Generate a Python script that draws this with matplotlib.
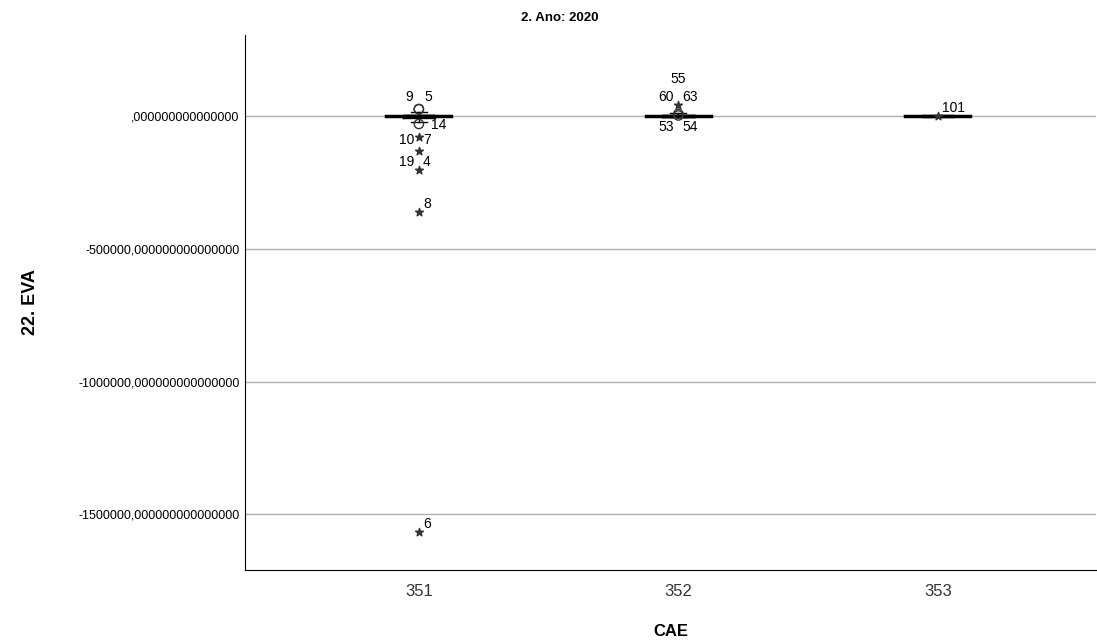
import matplotlib.pyplot as plt
import numpy as np

categorias = ['351', '352', '353']

# caixa: (mediana, q1, q3, bigode inferior, bigode superior)
medianas = [0, 0, 0]
q1 = [-8000, -3000, 0]
q3 = [4000, 5000, 0]
bigode_inf = [-23000, -5000, 0]
bigode_sup = [15000, 12000, 0]

# outliers (circulo): categoria, valor, rotulo esquerda, rotulo direita
outl_cat = [0, 0, 0, 1, 1]
outl_val = [26000, 26000, -30000, 8000, 2000]
outl_esq = ['9', '', '', '', '53']
outl_dir = ['5', '', '14', '', '54']

# extremos (estrela)
ext_cat = [0, 0, 0, 0, 0, 1, 1, 2]
ext_val = [-79000, -132000, -203000, -362000, -1567000, 41000, 139000, 0]
ext_esq = ['10', '', '19', '', '', '60', '55', '']
ext_dir = ['7', '', '4', '8', '6', '63', '', '101']
ext_mostra = [True, True, True, True, True, True, False, True]

plt.rcParams['font.family'] = ['Liberation Sans', 'DejaVu Sans']

fig = plt.figure(figsize=(10.97, 6.43), dpi=100)
ax = fig.add_axes([0.2233, 0.1135, 0.776, 0.832])

stats = []
for i in range(len(categorias)):
    stats.append({'med': medianas[i], 'q1': q1[i], 'q3': q3[i],
                  'whislo': bigode_inf[i], 'whishi': bigode_sup[i], 'fliers': []})
pos = np.arange(len(categorias))
ax.bxp(stats, positions=pos, widths=0.125, showfliers=False, patch_artist=False,
       boxprops=dict(color='black', linewidth=1),
       whiskerprops=dict(color='black', linewidth=1),
       capprops=dict(color='black', linewidth=1),
       medianprops=dict(color='black', linewidth=2.5), zorder=3)
# linha da mediana mais larga como no SPSS
for i in range(len(categorias)):
    ax.plot([pos[i] - 0.125, pos[i] + 0.125], [medianas[i]] * 2, color='black', lw=2.5, zorder=4)

ax.scatter(outl_cat, outl_val, marker='o', s=45, facecolors='none', edgecolors='#333333',
           linewidths=1, zorder=5)
fs = 10
for c, v, e, d in zip(outl_cat, outl_val, outl_esq, outl_dir):
    baixo = d in ('14', '54')
    if e:
        ax.annotate(e, (c, v), xytext=(-3, -3) if e == '53' else (-4, 4),
                    textcoords='offset points', ha='right',
                    va='top' if e == '53' else 'bottom', fontsize=fs)
    if d:
        if d == '14':
            ax.annotate(d, (c, v), xytext=(9, -1), textcoords='offset points', ha='left',
                        va='center', fontsize=fs)
        else:
            ax.annotate(d, (c, v), xytext=(3, -3) if baixo else (4, 4),
                        textcoords='offset points', ha='left',
                        va='top' if baixo else 'bottom', fontsize=fs)

for c, v, e, d, m in zip(ext_cat, ext_val, ext_esq, ext_dir, ext_mostra):
    if m:
        ax.scatter([c], [v], marker='*', s=35, color='#333333', zorder=5)
    lado = 'center' if e == '10' else 'bottom'
    dy = -2 if e == '10' else 1
    if e:
        if not m:
            ax.annotate(e, (c, v), textcoords='offset points', xytext=(0, 0), ha='center',
                        va='center', fontsize=fs)
        else:
            ax.annotate(e, (c, v), xytext=(-3, dy), textcoords='offset points', ha='right',
                        va=lado, fontsize=fs)
    if d:
        ax.annotate(d, (c, v), xytext=(3, dy), textcoords='offset points', ha='left',
                    va=lado, fontsize=fs)

ax.set_xlim(-0.67, 2.61)
ax.set_ylim(-1710000, 305000)
ax.set_xticks(pos)
ax.set_xticklabels(categorias, fontsize=12, color='#333333')
yt = [0, -500000, -1000000, -1500000]
ax.set_yticks(yt)
ax.set_yticklabels([(str(t) if t != 0 else '') + ',000000000000000' for t in yt], fontsize=9)
ax.tick_params(length=0, pad=4)
ax.tick_params(axis='x', pad=10)
ax.yaxis.grid(True, color='#b0b0b0', lw=1)
ax.set_axisbelow(True)
for s in ['top', 'right']:
    ax.spines[s].set_visible(False)
ax.set_xlabel('CAE', fontsize=12, fontweight='bold', labelpad=18)
ax.set_ylabel('22. EVA', fontsize=13, fontweight='bold', labelpad=28)
fig.text(560 / 1097, 1 - 18 / 643, '2. Ano: 2020', ha='center', va='center',
         fontsize=9.5, fontweight='bold')

fig.savefig('out.png', dpi=100)
